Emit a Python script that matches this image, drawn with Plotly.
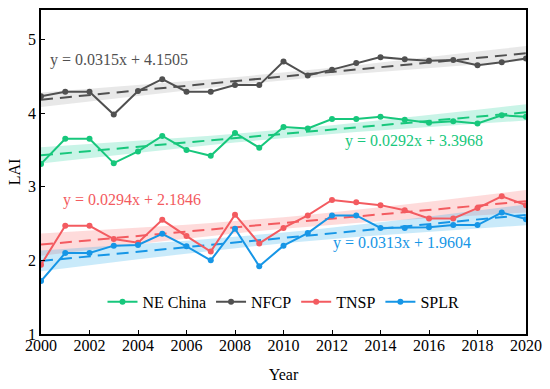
import numpy as np
import plotly.graph_objects as go

years = list(range(2000, 2021))
series_names = ["NE China", "NFCP", "TNSP", "SPLR"]
ne_china = [3.31, 3.65, 3.65, 3.32, 3.48, 3.69, 3.50, 3.42, 3.73, 3.53, 3.81,
            3.79, 3.92, 3.92, 3.95, 3.91, 3.87, 3.89, 3.86, 3.97, 3.95]
nfcp = [4.23, 4.29, 4.29, 3.98, 4.30, 4.46, 4.29, 4.29, 4.38, 4.38, 4.70,
        4.51, 4.59, 4.68, 4.76, 4.73, 4.71, 4.72, 4.65, 4.69, 4.74]
tnsp = [1.94, 2.47, 2.47, 2.29, 2.24, 2.55, 2.33, 2.12, 2.62, 2.23, 2.44,
        2.61, 2.82, 2.79, 2.75, 2.68, 2.57, 2.57, 2.71, 2.87, 2.75]
splr = [1.72, 2.10, 2.10, 2.20, 2.21, 2.36, 2.19, 2.00, 2.43, 1.92, 2.20,
        2.37, 2.61, 2.61, 2.44, 2.44, 2.45, 2.48, 2.48, 2.65, 2.56]
slopes = [0.0292, 0.0315, 0.0294, 0.0313]
intercepts = [3.3968, 4.1505, 2.1846, 1.9604]
eq_labels = ["y = 0.0292x + 3.3968", "y = 0.0315x + 4.1505",
             "y = 0.0294x + 2.1846", "y = 0.0313x + 1.9604"]
eq_pos = [(2015.4, 3.62), (2003.2, 4.725), (2003.75, 2.82), (2014.9, 2.23)]

colors = ["#17c77c", "#505050", "#f35b60", "#1696e6"]
bands = ["rgba(40,210,160,0.25)", "rgba(140,140,140,0.2)",
         "rgba(250,110,110,0.25)", "rgba(40,170,235,0.25)"]

data = [ne_china, nfcp, tnsp, splr]
x_idx = np.arange(1, len(years) + 1)
FONT = "Liberation Serif, Times New Roman, serif"

fig = go.Figure()
# confidence bands
for i, vals in enumerate(data):
    v = np.array(vals)
    fit = slopes[i] * x_idx + intercepts[i]
    n = len(v)
    s = np.sqrt(np.sum((v - fit) ** 2) / (n - 2))
    sxx = np.sum((x_idx - x_idx.mean()) ** 2)
    hw = 2.09 * s * np.sqrt(1 / n + (x_idx - x_idx.mean()) ** 2 / sxx)
    fig.add_trace(go.Scatter(x=years + years[::-1],
                             y=list(fit + hw) + list((fit - hw)[::-1]),
                             fill="toself", fillcolor=bands[i], line=dict(width=0),
                             mode="lines", showlegend=False, hoverinfo="skip"))
# trend lines
for i, vals in enumerate(data):
    fit = slopes[i] * x_idx + intercepts[i]
    fig.add_trace(go.Scatter(x=years, y=fit, mode="lines",
                             line=dict(color=colors[i], width=2, dash="12px,7px"),
                             showlegend=False, hoverinfo="skip"))
# data lines
for i, vals in enumerate(data):
    fig.add_trace(go.Scatter(x=years, y=vals, mode="lines+markers", name=series_names[i],
                             line=dict(color=colors[i], width=2),
                             marker=dict(color=colors[i], size=6)))

for i in range(4):
    fig.add_annotation(x=eq_pos[i][0], y=eq_pos[i][1], text=eq_labels[i], showarrow=False,
                       font=dict(family=FONT, size=16, color=colors[i]))

axis_common = dict(showline=True, linecolor="black", linewidth=1.5, mirror=True,
                   ticks="inside", ticklen=4, tickwidth=1.2, tickcolor="black",
                   showgrid=False, zeroline=False,
                   tickfont=dict(family=FONT, size=16, color="black"))
fig.update_xaxes(range=[2000, 2020], dtick=2, tick0=2000, ticklabelstandoff=-4,
                 title=dict(text="Year", font=dict(family=FONT, size=16, color="black"),
                            standoff=16), **axis_common)
fig.update_yaxes(range=[1, 5.4], tickvals=[1, 2, 3, 4, 5],
                 title=dict(text="LAI", font=dict(family=FONT, size=16, color="black"),
                            standoff=3), **axis_common)
fig.update_layout(width=550, height=389, plot_bgcolor="white", paper_bgcolor="white",
                  margin=dict(l=41, r=19, t=8, b=55),
                  legend=dict(orientation="h", x=0.5, xanchor="center", y=0.099, yanchor="middle",
                              itemwidth=30, bgcolor="rgba(0,0,0,0)",
                              font=dict(family=FONT, size=16, color="black")))
fig.write_html("out.html", config={"displayModeBar": False},
               post_script="document.body.style.margin='0';document.body.style.overflow='hidden';")
